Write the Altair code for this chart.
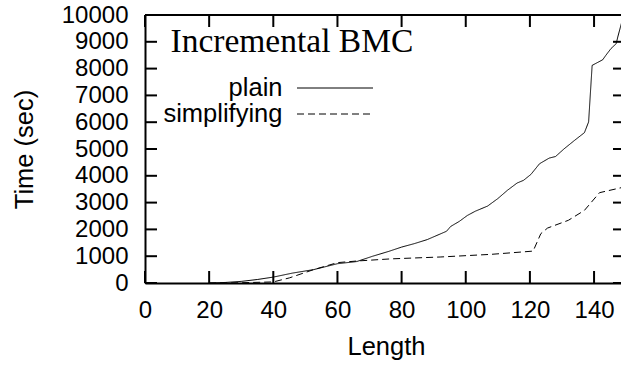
import altair as alt
import pandas as pd

# ---- data ----
plain_x = [20, 25, 30, 35, 40, 46, 52.6, 60, 66, 71, 76, 80, 84, 88, 94, 95.3, 98, 100.5, 103, 106.8,
           110, 113, 116, 118, 120.3, 123, 126, 128, 130.7, 133.9, 137, 138.3, 139.4, 142.7, 143.7,
           145.3, 146.9, 147.4, 148.6]
plain_y = [0, 20, 60, 130, 220, 370, 500, 720, 800, 1000, 1180, 1340, 1470, 1620, 1930, 2110, 2300, 2520, 2680, 2870,
           3150, 3460, 3730, 3830, 4050, 4450, 4660, 4720, 5010, 5320, 5610, 6010, 8120, 8330, 8500,
           8750, 8930, 9180, 9720]

simp_x = [20, 30, 40, 45, 52.6, 60, 66, 76.6, 92, 108, 121, 123.4, 125.5, 132, 137, 141.7, 148.6]
simp_y = [0, 10, 40, 190, 500, 760, 820, 900, 970, 1070, 1190, 1840, 2050, 2340, 2710, 3370, 3560]

series_names = ["plain", "simplifying"]
x_ticks = [0, 20, 40, 60, 80, 100, 120, 140]
y_ticks = [0, 1000, 2000, 3000, 4000, 5000, 6000, 7000, 8000, 9000, 10000]
title_text = "Incremental BMC"

W, H = 476, 268
FONT = "Liberation Sans"

df = pd.DataFrame(
    [{"Length": x, "Time": y, "series": "plain"} for x, y in zip(plain_x, plain_y)]
    + [{"Length": x, "Time": y, "series": "simplifying"} for x, y in zip(simp_x, simp_y)]
)

xscale = alt.Scale(domain=[0, 148.4], nice=False, zero=False)
yscale = alt.Scale(domain=[0, 10000], nice=False)
dash_scale = alt.Scale(domain=series_names, range=[[1, 0], [7, 4]])

lines = alt.Chart(df).mark_line(color="black", strokeWidth=1, clip=True).encode(
    x=alt.X("Length:Q", scale=xscale,
            axis=alt.Axis(title="Length", values=x_ticks, grid=False, ticks=False, tickSize=0,
                          domainColor="black", domainWidth=2, labelFont=FONT, labelFontSize=24,
                          labelColor="black", labelPadding=34, labelBaseline="alphabetic",
                          labelFlush=False, format="d",
                          titleFont=FONT, titleFontSize=25.5, titleFontWeight="normal", titleColor="black",
                          titleX=241, titleY=71, titleBaseline="alphabetic")),
    y=alt.Y("Time:Q", scale=yscale,
            axis=alt.Axis(title="Time (sec)", values=y_ticks, grid=False, ticks=False, tickSize=0,
                          domainColor="black", domainWidth=2, labelFont=FONT, labelFontSize=24,
                          labelColor="black", labelPadding=17, labelFlush=False, format="d",
                          titleFont=FONT, titleFontSize=25.5, titleFontWeight="normal", titleColor="black",
                          titleX=-121, titleY=134, titleBaseline="middle", titleAlign="center")),
    strokeDash=alt.StrokeDash("series:N", scale=dash_scale, legend=None),
    detail="series:N",
)

xt = pd.DataFrame({"Length": x_ticks})
yt = pd.DataFrame({"v": y_ticks})

bottom_ticks = alt.Chart(xt).mark_rule(color="black", strokeWidth=2).encode(
    x=alt.X("Length:Q", scale=xscale), y=alt.value(H), y2=alt.value(H - 12))
top_ticks = alt.Chart(xt).mark_rule(color="black", strokeWidth=2).encode(
    x=alt.X("Length:Q", scale=xscale), y=alt.value(0), y2=alt.value(12))
left_ticks = alt.Chart(yt).mark_rule(color="black", strokeWidth=2).encode(
    y=alt.Y("v:Q", scale=yscale, axis=None), x=alt.value(0), x2=alt.value(12))
right_ticks = alt.Chart(yt).mark_rule(color="black", strokeWidth=2).encode(
    y=alt.Y("v:Q", scale=yscale, axis=None), x=alt.value(W - 8), x2=alt.value(W + 2))

top_border = alt.Chart(pd.DataFrame({"a": [0]})).mark_rule(color="black", strokeWidth=2).encode(
    x=alt.value(0), x2=alt.value(W + 2), y=alt.value(0))

title = alt.Chart(pd.DataFrame({"t": [title_text]})).mark_text(
    font="Liberation Serif", fontSize=33.5, align="left", baseline="alphabetic", color="black"
).encode(x=alt.value(25.5), y=alt.value(37), text="t:N")

leg = pd.DataFrame({"series": series_names, "row": [0, 1]})
row_scale = alt.Scale(domain=[0, 1], range=[73, 99])
leg_text = alt.Chart(leg).mark_text(
    font=FONT, fontSize=25.5, align="right", baseline="middle", color="black"
).encode(
    x=alt.value(137.5),
    y=alt.Y("row:Q", scale=row_scale, axis=None),
    text="series:N",
)
leg_lines = alt.Chart(leg).mark_rule(color="black", strokeWidth=1).encode(
    x=alt.value(152), x2=alt.value(228),
    y=alt.Y("row:Q", scale=row_scale, axis=None),
    strokeDash=alt.StrokeDash("series:N", scale=dash_scale, legend=None),
)

chart = alt.layer(
    lines, bottom_ticks, top_ticks, left_ticks, right_ticks, top_border, title, leg_text, leg_lines
).resolve_scale(y="independent").properties(
    width=W, height=H,
    autosize=alt.AutoSizeParams(type="none"),
    padding={"left": 145, "top": 15, "right": 0, "bottom": 83},
    background="white",
).configure_view(stroke=None)

chart.save("out.html", embed_options={"renderer": "svg", "actions": False})
